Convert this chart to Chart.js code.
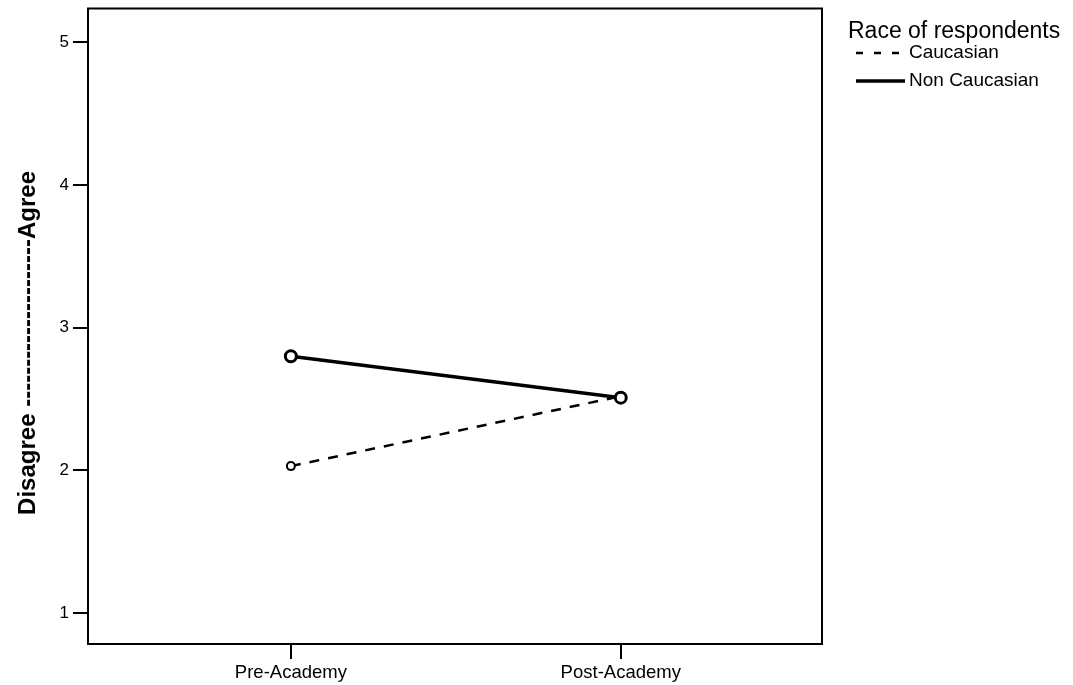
<!DOCTYPE html>
<html lang="en">
<head>
    <meta charset="UTF-8">
    <title>Race of respondents</title>
    <script src="https://cdn.jsdelivr.net/npm/chart.js@4.4.1/dist/chart.umd.min.js"></script>
    <style>
        html, body { margin: 0; padding: 0; background: #fff; }
        #wrap { width: 1073px; height: 685px; }
    </style>
</head>
<body>
<div id="wrap"><canvas id="myChart"></canvas></div>
<script>
    // data
    var phases = ["Pre-Academy", "Post-Academy"];
    var phasePos = [0, 1];
    var caucasian = [2.03, 2.52];
    var nonCaucasian = [2.80, 2.51];
    var yTicks = [1, 2, 3, 4, 5];
    var seriesNames = ["Caucasian", "Non Caucasian"];

    var FONT = "'Liberation Sans', Arial, Helvetica, sans-serif";

    function pts(vals) {
        return vals.map(function (v, i) { return {x: phasePos[i], y: v}; });
    }

    // frame round the plot and the legend on the right
    var framePlugin = {
        id: 'frame',
        afterDraw: function (chart) {
            var c = chart.ctx, a = chart.chartArea;
            c.save();
            c.strokeStyle = '#000';
            c.lineWidth = 2;
            c.strokeRect(a.left, a.top, a.right - a.left, a.bottom - a.top);

            var x0 = a.right + 26;
            c.fillStyle = '#000';
            c.font = '23px ' + FONT;
            c.textBaseline = 'alphabetic';
            c.fillText('Race of respondents', x0, 38);

            c.font = '19px ' + FONT;
            c.textBaseline = 'middle';
            var rows = [53, 81];
            chart.data.datasets.forEach(function (ds, i) {
                var y = rows[i];
                c.beginPath();
                c.lineWidth = ds.borderWidth;
                c.setLineDash(ds.borderDash ? [7, 11] : []);
                c.moveTo(x0 + 8, y);
                c.lineTo(x0 + 57, y);
                c.stroke();
                c.setLineDash([]);
                c.fillText(ds.label, x0 + 61, y);
            });
            c.restore();
        }
    };

    var ctx = document.getElementById("myChart");
    var myChart = new Chart(ctx, {
        type: 'line',
        data: {
            datasets: [
                {
                    label: seriesNames[0],
                    data: pts(caucasian),
                    borderColor: "#000",
                    borderWidth: 2.5,
                    borderDash: [10, 9],
                    pointStyle: 'circle',
                    pointRadius: 4,
                    pointBorderWidth: 2,
                    pointBackgroundColor: "#fff",
                    pointBorderColor: "#000",
                    fill: false,
                    order: 1
                },
                {
                    label: seriesNames[1],
                    data: pts(nonCaucasian),
                    borderColor: "#000",
                    borderWidth: 3.5,
                    pointStyle: 'circle',
                    pointRadius: 5.5,
                    pointBorderWidth: 3,
                    pointBackgroundColor: "#fff",
                    pointBorderColor: "#000",
                    fill: false,
                    order: 0
                }
            ]
        },
        options: {
            responsive: true,
            maintainAspectRatio: false,
            animation: false,
            layout: { padding: { top: 7, right: 251, left: 0, bottom: 0 } },
            plugins: {
                legend: { display: false },
                tooltip: { enabled: false }
            },
            scales: {
                x: {
                    type: 'linear',
                    min: -0.615,
                    max: 1.61,
                    afterBuildTicks: function (s) {
                        s.ticks = phasePos.map(function (v) { return {value: v}; });
                    },
                    afterFit: function (s) { s.height = 41; },
                    ticks: {
                        color: '#000',
                        padding: 3,
                        maxRotation: 0,
                        font: { family: FONT, size: 18.5 },
                        callback: function (v) { return phases[phasePos.indexOf(v)]; }
                    },
                    grid: {
                        drawOnChartArea: false,
                        drawTicks: true,
                        tickLength: 15,
                        color: '#000',
                        lineWidth: 2
                    },
                    border: { display: false }
                },
                y: {
                    type: 'linear',
                    min: 0.783,
                    max: 5.238,
                    afterBuildTicks: function (s) {
                        s.ticks = yTicks.map(function (v) { return {value: v}; });
                    },
                    afterFit: function (s) {
                        s.width = 88;
                        s.paddingTop = 0;
                        s.paddingBottom = 0;
                    },
                    ticks: {
                        color: '#000',
                        padding: 4,
                        font: { family: FONT, size: 17 }
                    },
                    grid: {
                        drawOnChartArea: false,
                        drawTicks: true,
                        tickLength: 15,
                        color: '#000',
                        lineWidth: 2
                    },
                    border: { display: false },
                    title: {
                        display: true,
                        text: 'Disagree ---------------------Agree     ',
                        color: '#000',
                        padding: { top: 14, bottom: 0 },
                        font: { family: FONT, size: 24, weight: 'bold' }
                    }
                }
            }
        },
        plugins: [framePlugin]
    });
</script>
</body>
</html>
